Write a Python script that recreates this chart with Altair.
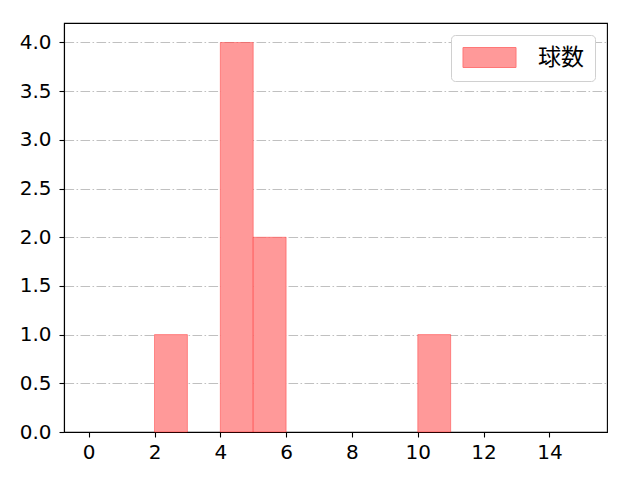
import altair as alt
import pandas as pd

bin_start = [2, 4, 5, 10]
bin_end = [3, 5, 6, 11]
counts = [1, 4, 2, 1]
series = ["球数"] * 4

df = pd.DataFrame({"start": bin_start, "end": bin_end, "count": counts, "series": series})

FONT = "DejaVu Sans"
CJK = "Noto Sans CJK JP"

bars = alt.Chart(df).mark_rect(
    fill="#ff9999", stroke="#ff0000", strokeOpacity=0.35, strokeWidth=1
).encode(
    x=alt.X("start:Q", scale=alt.Scale(domain=[-0.75, 15.75], nice=False, zero=False),
            axis=alt.Axis(values=[0, 2, 4, 6, 8, 10, 12, 14], format="d", title=None,
                          grid=False)),
    x2="end:Q",
    y=alt.Y("count:Q", scale=alt.Scale(domain=[0, 4.2], nice=False),
            axis=alt.Axis(values=[0, 0.5, 1, 1.5, 2, 2.5, 3, 3.5, 4], format=".1f", title=None,
                          grid=True, gridColor="#b0b0b0", gridDash=[9.6, 2.4, 1.6, 2.4],
                          gridWidth=0.8)),
    color=alt.Color("series:N", scale=alt.Scale(range=["#ff9999"]),
                    legend=alt.Legend(title=None, orient="top-right", offset=12,
                                      symbolType="M-2.65,-1H2.65V1H-2.65Z", symbolSize=400,
                                      symbolOffset=16, symbolFillColor="#ff9999",
                                      symbolStrokeColor="#ff7777",
                                      symbolStrokeWidth=1, symbolOpacity=1,
                                      labelFont=CJK, labelFontSize=23, labelColor="#000000",
                                      labelOffset=37, padding=11,
                                      strokeColor="#d0d0d0", fillColor="#ffffff",
                                      cornerRadius=4)),
)

chart = bars.properties(
    width=543, height=409,
    autosize=alt.AutoSizeParams(type="none"),
    padding={"left": 56, "top": 15, "right": 10, "bottom": 40},
).configure_view(
    stroke="#000000", strokeWidth=1.1
).configure_axis(
    domainColor="#000000", domainWidth=1.1, tickColor="#000000", tickWidth=1.1,
    tickSize=5, labelFont=FONT, labelFontSize=20, labelColor="#000000",
    labelPadding=5
).configure_axisY(labelPadding=8)

chart.save("out.html", embed_options={"renderer": "svg", "actions": False})
